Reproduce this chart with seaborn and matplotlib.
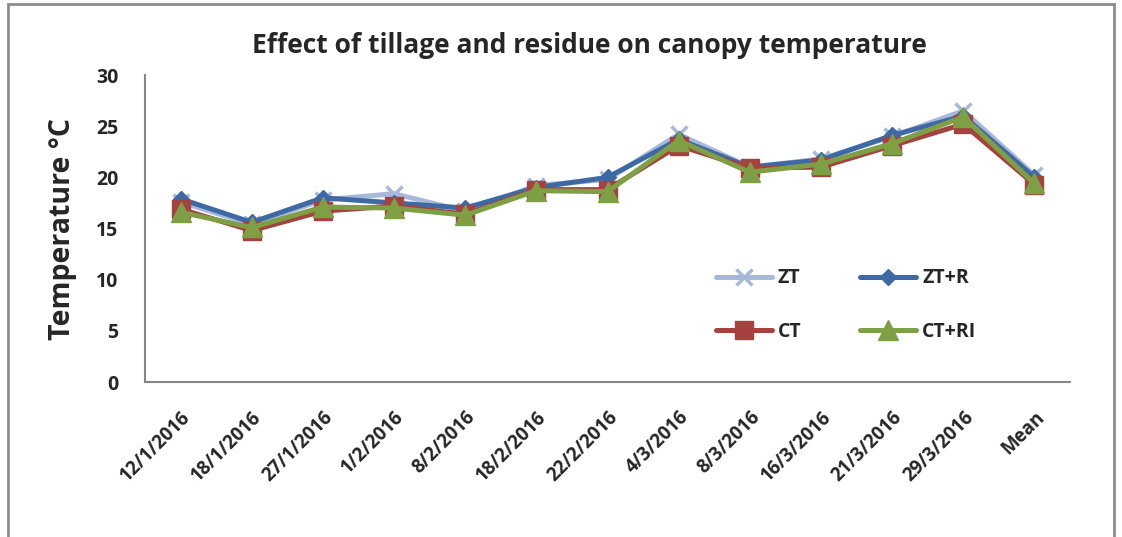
import numpy as np
import pandas as pd
import matplotlib
matplotlib.use('Agg')
import matplotlib.pyplot as plt
import seaborn as sns
from matplotlib.patches import Rectangle

# data
dates = ['12/1/2016', '18/1/2016', '27/1/2016', '1/2/2016', '8/2/2016',
         '18/2/2016', '22/2/2016', '4/3/2016', '8/3/2016', '16/3/2016',
         '21/3/2016', '29/3/2016', 'Mean']
zt = [17.6, 15.4, 17.8, 18.4, 16.7, 19.2, 19.8, 24.2, 21.0, 21.8, 24.0, 26.5, 20.2]
zt_r = [17.9, 15.6, 18.0, 17.5, 17.0, 19.0, 20.0, 23.7, 21.0, 21.7, 24.1, 26.0, 20.0]
ct = [16.9, 14.8, 16.7, 17.2, 16.4, 18.8, 18.8, 23.1, 20.9, 21.0, 23.1, 25.2, 19.3]
ct_ri = [16.6, 15.1, 17.1, 17.0, 16.3, 18.7, 18.6, 23.6, 20.5, 21.3, 23.3, 25.9, 19.4]

series = {'ZT': zt, 'ZT+R': zt_r, 'CT': ct, 'CT+RI': ct_ri}
colors = {'ZT': '#A7B9DA', 'ZT+R': '#3F69A4', 'CT': '#A5413F', 'CT+RI': '#7F9F45'}
markers = {'ZT': 'x', 'ZT+R': 'D', 'CT': 's', 'CT+RI': '^'}
msizes = {'ZT': 12, 'ZT+R': 8.5, 'CT': 12.5, 'CT+RI': 15}

df = pd.concat([pd.DataFrame({'idx': np.arange(len(dates)), 'temp': v, 'treat': k})
                for k, v in series.items()], ignore_index=True)

sns.set_style('white')
plt.rcParams['font.family'] = ['Open Sans', 'DejaVu Sans']
plt.rcParams['font.weight'] = 'bold'

fig = plt.figure(figsize=(11.22, 5.37), dpi=100)
ax = fig.add_axes([0.1292, 0.2886, 0.8245, 0.5717])

for name in series:
    sub = df[df['treat'] == name]
    sns.lineplot(data=sub, x='idx', y='temp', ax=ax, color=colors[name],
                 marker=markers[name], markersize=msizes[name],
                 markeredgewidth=2.5 if name == 'ZT' else 1,
                 markeredgecolor=colors[name], linewidth=3.6, label=name,
                 sort=False)

ax.set_xlim(-0.5, len(dates) - 0.5)
ax.set_ylim(0, 30)
ax.set_yticks(np.arange(0, 31, 5))
ax.set_xticks(np.arange(len(dates)))
ax.set_xticklabels(dates, rotation=45, ha='right', rotation_mode='anchor',
                   fontsize=13.5, fontweight='bold')
ax.tick_params(axis='y', labelsize=14, length=0, pad=19)
ax.tick_params(axis='x', length=0, pad=18)
for lab in ax.get_yticklabels():
    lab.set_fontweight('bold')

ax.set_xlabel('')
ax.set_ylabel('Temperature °C', fontsize=20.5, fontweight='bold', labelpad=14)
ax.set_title('Effect of tillage and residue on canopy temperature',
             fontsize=19, fontweight='bold', pad=16, x=0.481)

for s in ['top', 'right']:
    ax.spines[s].set_visible(False)
for s in ['left', 'bottom']:
    ax.spines[s].set_color('#868686')
    ax.spines[s].set_linewidth(1.5)

# column-major fill: ZT / CT in first column, ZT+R / CT+RI in second
handles, labels = ax.get_legend_handles_labels()
order = [labels.index(n) for n in ['ZT', 'CT', 'ZT+R', 'CT+RI']]
ax.legend([handles[i] for i in order], [labels[i] for i in order],
          ncol=2, frameon=False, loc='center', bbox_to_anchor=(0.754, 0.432),
          bbox_transform=fig.transFigure, prop={'size': 14, 'weight': 'bold'},
          handlelength=2.9, labelspacing=1.7, columnspacing=3.0, handletextpad=0.3)

fig.patches.append(Rectangle((0.007, -0.05), 0.986, 1.043, transform=fig.transFigure,
                             fill=False, edgecolor='#8C8C8C', linewidth=2))

fig.savefig('out.png', dpi=100)
